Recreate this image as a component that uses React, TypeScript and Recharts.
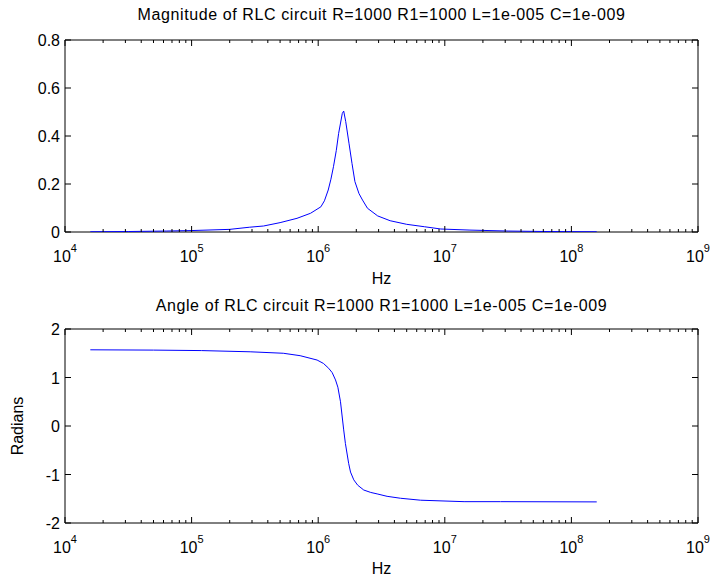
import { Line, LineChart, ReferenceArea, XAxis, YAxis } from 'recharts';

// frequency (Hz) and magnitude
const MAG_FREQ = [
  1.585e4, 3.16e4, 6.3e4, 1e5, 2e5, 2.88e5, 3.7e5, 5e5, 6.8e5, 8.7e5,
  1.05e6, 1.12e6, 1.2e6, 1.26e6, 1.32e6, 1.39e6, 1.45e6, 1.55e6, 1.59e6, 1.65e6,
  1.75e6, 1.85e6, 1.95e6, 2.1e6, 2.24e6, 2.45e6, 2.95e6, 3.7e6, 5e6, 6.9e6,
  9.3e6, 1.58e7, 3.16e7, 6.3e7, 1.585e8,
];
const MAG_VALUES = [
  0.001, 0.002, 0.004, 0.006, 0.011, 0.02, 0.025, 0.039, 0.057, 0.078,
  0.105, 0.13, 0.175, 0.22, 0.272, 0.34, 0.411, 0.494, 0.504, 0.46,
  0.37, 0.285, 0.21, 0.16, 0.133, 0.099, 0.067, 0.047, 0.032, 0.022,
  0.0125, 0.008, 0.004, 0.002, 0.001,
];

// frequency (Hz) and phase angle (radians)
const ANGLE_FREQ = [
  1.585e4, 5e4, 1.2e5, 2.9e5, 5.3e5, 7.2e5, 9.8e5, 1.1e6, 1.21e6, 1.29e6,
  1.37e6, 1.43e6, 1.5e6, 1.59e6, 1.64e6, 1.74e6, 1.8e6, 1.91e6, 2.05e6, 2.29e6,
  2.6e6, 2.92e6, 3.5e6, 4.47e6, 6.44e6, 1.42e7, 2.76e7, 1.585e8,
];
const ANGLE_VALUES = [
  1.571, 1.565, 1.555, 1.53, 1.5, 1.45, 1.36, 1.29, 1.19, 1.1,
  0.95, 0.8, 0.5, -0.08, -0.36, -0.77, -0.95, -1.11, -1.22, -1.32,
  -1.37, -1.4, -1.45, -1.49, -1.53, -1.56, -1.56, -1.565,
];

const MAG_TICKS = [0, 0.2, 0.4, 0.6, 0.8];
const ANGLE_TICKS = [-2, -1, 0, 1, 2];
const DECADES = [4, 5, 6, 7, 8];

const TITLE_MAG = 'Magnitude of RLC circuit R=1000 R1=1000 L=1e-005 C=1e-009';
const TITLE_ANGLE = 'Angle of RLC circuit R=1000 R1=1000 L=1e-005 C=1e-009';

const magData = MAG_FREQ.map((f, i) => ({ f, v: MAG_VALUES[i] }));
const angleData = ANGLE_FREQ.map((f, i) => ({ f, v: ANGLE_VALUES[i] }));

// decade ticks plus minor ticks 2..9 in each decade
const X_TICKS: number[] = [];
DECADES.forEach((d) => {
  for (let m = 1; m <= 9; m++) X_TICKS.push(Number((m * Math.pow(10, d)).toPrecision(6)));
});
X_TICKS.push(1e9);

const FONT = '"Liberation Sans", Arial, sans-serif';
const FS = 16;

// plot frame inside each chart (px)
const W = 716;
const LEFT = 65;
const RIGHT = 698;

function XTick(props: any) {
  const { payload, top, bottom } = props;
  const x = payload.coordinate;
  const lg = Math.log10(payload.value);
  const e = Math.round(lg);
  const major = Math.abs(lg - e) < 1e-6;
  const len = major ? 6 : 3;
  return (
    <g>
      <line x1={x} x2={x} y1={bottom} y2={bottom - len} stroke="#000" />
      <line x1={x} x2={x} y1={top} y2={top + len} stroke="#000" />
      {major && (
        <text x={x} y={bottom + 30} textAnchor="middle" fontSize={FS} fontFamily={FONT} fill="#000">
          10
          <tspan dy={-10} fontSize={11}>{e}</tspan>
        </text>
      )}
    </g>
  );
}

function YTick(props: any) {
  const { payload } = props;
  const y = payload.coordinate;
  return (
    <g>
      <line x1={LEFT} x2={LEFT + 6} y1={y} y2={y} stroke="#000" />
      <line x1={RIGHT} x2={RIGHT - 6} y1={y} y2={y} stroke="#000" />
      <text x={LEFT - 5} y={y + 6} textAnchor="end" fontSize={FS} fontFamily={FONT} fill="#000">
        {payload.value}
      </text>
    </g>
  );
}

function Panel({ data, domain, ticks, top, bottom, height }: any) {
  return (
    <LineChart
      width={W}
      height={height}
      data={data}
      margin={{ top, right: W - RIGHT, left: 0, bottom: height - bottom - 30 }}
    >
      <XAxis
        dataKey="f"
        type="number"
        scale="log"
        domain={[1e4, 1e9]}
        ticks={X_TICKS}
        interval={0}
        allowDataOverflow
        height={30}
        tickLine={false}
        axisLine={false}
        tick={(p: any) => <XTick {...p} top={top} bottom={bottom} />}
      />
      <YAxis
        type="number"
        domain={domain}
        ticks={ticks}
        interval={0}
        allowDataOverflow
        width={LEFT}
        tickLine={false}
        axisLine={false}
        tick={(p: any) => <YTick {...p} />}
      />
      <ReferenceArea
        x1={1e4}
        x2={1e9}
        y1={domain[0]}
        y2={domain[1]}
        fill="none"
        fillOpacity={0}
        stroke="#000"
        strokeWidth={1}
        ifOverflow="visible"
      />
      <Line
        type="linear"
        dataKey="v"
        stroke="#0000ff"
        strokeWidth={1}
        dot={false}
        isAnimationActive={false}
      />
    </LineChart>
  );
}

const textStyle = {
  position: 'absolute' as const,
  fontFamily: FONT,
  fontSize: FS,
  color: '#000',
  lineHeight: '18px',
  whiteSpace: 'nowrap' as const,
};

export default function App() {
  return (
    <div style={{ position: 'fixed', left: 0, top: 0, width: W, height: 579, background: '#fff' }}>
      <div style={{ position: 'absolute', left: 0, top: 0 }}>
        <Panel data={magData} domain={[0, 0.8]} ticks={MAG_TICKS} top={40} bottom={232} height={290} />
      </div>
      <div style={{ position: 'absolute', left: 0, top: 290 }}>
        <Panel data={angleData} domain={[-2, 2]} ticks={ANGLE_TICKS} top={39} bottom={233} height={289} />
      </div>
      <div style={{ ...textStyle, left: LEFT, width: RIGHT - LEFT, top: 6, textAlign: 'center', letterSpacing: 0.6 }}>
        {TITLE_MAG}
      </div>
      <div style={{ ...textStyle, left: LEFT, width: RIGHT - LEFT, top: 297, textAlign: 'center', letterSpacing: 0.6 }}>
        {TITLE_ANGLE}
      </div>
      <div style={{ ...textStyle, left: LEFT, width: RIGHT - LEFT, top: 270, textAlign: 'center' }}>Hz</div>
      <div style={{ ...textStyle, left: LEFT, width: RIGHT - LEFT, top: 560, textAlign: 'center' }}>Hz</div>
      <div
        style={{
          ...textStyle,
          left: 18,
          top: 426,
          transform: 'translate(-50%, -50%) rotate(-90deg)',
        }}
      >
        Radians
      </div>
    </div>
  );
}
